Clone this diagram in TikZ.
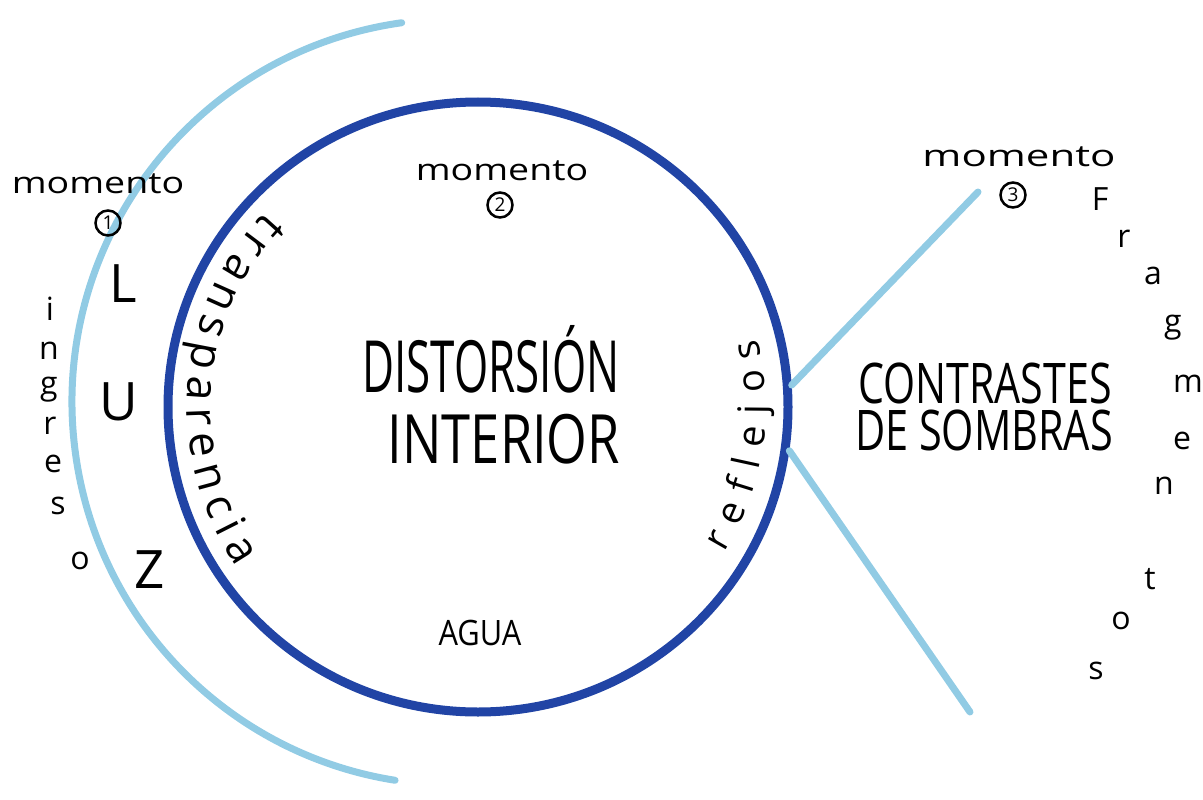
\documentclass[tikz,border=0pt]{standalone}
\usepackage{fontspec}
\setmainfont{Open Sans}
\usetikzlibrary{shapes.geometric,decorations.text}

\definecolor{tinta}{RGB}{33,68,165}
\definecolor{celeste}{RGB}{145,203,228}

\begin{document}
\begin{tikzpicture}[x=1pt,y=1pt,
  rastro/.style={celeste,line width=7pt,line cap=round},
  letra/.style={inner sep=0pt,anchor=mid,font=\fontsize{32}{32}\selectfont},
  grande/.style={inner sep=0pt,anchor=base,font=\fontsize{53}{53}\selectfont},
  titulo/.style={inner sep=0pt,anchor=base,font=\fontsize{#1}{#1}\selectfont},
  momento/.style={inner sep=0pt,anchor=mid,xscale=1.25,font=\fontsize{30}{30}\selectfont},
  numero/.style={circle,draw,line width=2.5pt,minimum size=25pt,inner sep=0pt,font=\fontsize{19}{19}\selectfont}]

\useasboundingbox (0,0) rectangle (1203,-800);

\coordinate (centro) at (478,-407);
\coordinate (m3) at (978,-192);
\coordinate (fin) at (970,-712);

\draw[rastro] ([shift={(98:383)}]455,-402) arc[start angle=98, end angle=261, radius=383];

\node[draw=tinta,ellipse,line width=9pt,minimum width=620pt,minimum height=610pt,inner sep=0pt] (circulo) at (centro) {};

\draw[rastro] (circulo.4) -- (m3);
\draw[rastro] (circulo.-8) -- (fin);

\node[momento] (momento1) at (98,-191) {momento};
\node[numero] (num1) at (108,-223) {1};
\node[momento] (momento2) at (502,-178) {momento};
\node[numero] (num2) at (500,-205) {2};
\node[momento,xscale=1.12] (momento3) at (1019,-164) {momento};
\node[numero] (num3) at (1013,-195) {3};

\node[grande] (luzL) at (123,-302) {L};
\node[grande] (luzU) at (119,-420) {U};
\node[grande] (luzZ) at (150,-588) {Z};

\foreach \l/\x/\y [count=\i] in {i/50/318, n/49/357, g/49/392, r/50/432, e/53/470, s/58/512, o/80/567}
  {\node[letra] (ingreso\i) at (\x,-\y) {\l};}

\foreach \l/\x/\y [count=\i] in {F/1100/208, r/1124/245, a/1153/282, g/1173/330, m/1188/390, e/1182/447, n/1164/492, t/1150/587, o/1121/627, s/1096/677}
  {\node[letra] (fragmentos\i) at (\x,-\y) {\l};}

\node[titulo=72,xscale=0.61] (distorsion) at (491,-392) {DISTORSIÓN};
\node[titulo=68,xscale=0.77] (interior) at (504,-463) {INTERIOR};
\node[titulo=35,xscale=0.88] (agua) at (480,-645) {AGUA};
\node[titulo=56,xscale=0.735] (contrastes) at (985,-403) {CONTRASTES};
\node[titulo=56,xscale=0.74] (sombras) at (984,-450) {DE SOMBRAS};

\path[decorate,decoration={text along path,text align=fit to path,
  text={|\fontsize{44}{44}\selectfont|transparencia}}]
  ([shift={(137:291 and 286)}]centro) arc[start angle=137, end angle=214, x radius=291, y radius=286];
\path[decorate,decoration={text along path,text align=fit to path,
  text={|\fontsize{38}{38}\selectfont|reflejos}}]
  ([shift={(-31:288 and 283)}]centro) arc[start angle=-31, end angle=14, x radius=288, y radius=283];
\end{tikzpicture}
\end{document}
